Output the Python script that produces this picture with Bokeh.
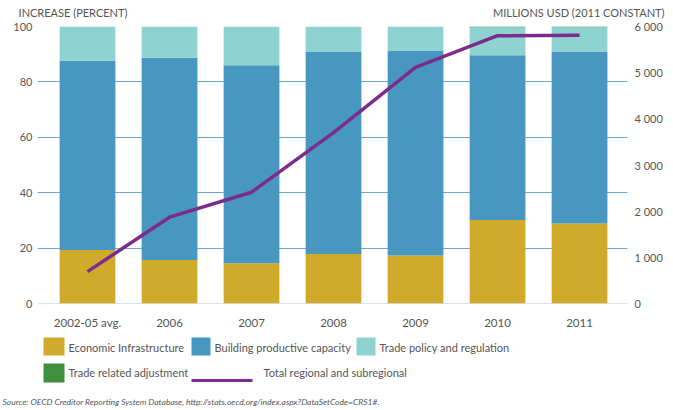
from bokeh.plotting import figure
from bokeh.models import (ColumnDataSource, Range1d, LinearAxis, FixedTicker,
                          Span, Title)
from bokeh.layouts import column
from bokeh.core.properties import value
from bokeh.embed import file_html
from bokeh.resources import INLINE

# ---- data ----
categories = ["2002-05 avg.", "2006", "2007", "2008", "2009", "2010", "2011"]
economic_infrastructure = [19.3, 15.7, 14.5, 17.9, 17.3, 30.1, 28.9]
building_productive_capacity = [68.3, 73.0, 71.5, 73.1, 74.0, 59.5, 62.1]
trade_policy_regulation = [12.4, 11.3, 14.0, 9.0, 8.7, 10.1, 8.7]
trade_related_adjustment = [0.0, 0.0, 0.0, 0.0, 0.0, 0.3, 0.3]
total_regional = [690, 1870, 2410, 3700, 5115, 5800, 5810]
left_ticks = [0, 20, 40, 60, 80, 100]
right_ticks = [0, 1000, 2000, 3000, 4000, 5000, 6000]
right_tick_labels = ["0", "1 000", "2 000", "3 000", "4 000", "5 000", "6 000"]
axis_titles = ["INCREASE (PERCENT)", "MILLIONS USD (2011 CONSTANT)"]
legend_labels = ["Economic Infrastructure", "Building productive capacity",
                 "Trade policy and regulation", "Trade related adjustment",
                 "Total regional and subregional"]
source_note = "Source: OECD Creditor Reporting System Database, http://stats.oecd.org/index.aspx?DataSetCode=CRS1#."

colors = ["#CFAA2B", "#4897C0", "#8ED2D2", "#3F8F3F"]
purple = "#7B2C8C"
grid_color = "#6BA8CF"
text_color = "#555555"
FONT = "Lato"

idx = list(range(len(categories)))
source = ColumnDataSource(dict(
    x=idx,
    econ=economic_infrastructure,
    build=building_productive_capacity,
    policy=trade_policy_regulation,
    adjust=trade_related_adjustment,
    total=total_regional,
))

p = figure(width=673, height=335, output_backend="svg", toolbar_location=None,
           x_range=Range1d(-0.61, 6.585), y_range=Range1d(0, 100),
           min_border_left=37, min_border_right=46, min_border_top=26,
           min_border_bottom=32, x_axis_location=None, y_axis_location=None)
p.outline_line_color = None
p.extra_y_ranges = {"usd": Range1d(0, 6000)}

p.xgrid.visible = False
p.ygrid.ticker = FixedTicker(ticks=left_ticks[1:])
p.ygrid.grid_line_color = grid_color
p.ygrid.grid_line_width = 1
p.add_layout(Span(location=0, dimension="width", line_color="#BCC8D6",
                  line_width=1, level="underlay"))

p.vbar_stack(["econ", "build", "policy", "adjust"], x="x", width=0.68,
             color=colors, line_color=None, source=source)
p.line("x", "total", source=source, y_range_name="usd", line_color=purple,
       line_width=3.5, line_join="round")

def style(ax, size="11px"):
    ax.axis_line_color = None
    ax.major_tick_line_color = None
    ax.minor_tick_line_color = None
    ax.major_tick_out = 0
    ax.major_tick_in = 0
    ax.minor_tick_out = 0
    ax.major_label_text_font = FONT
    ax.major_label_text_font_size = size
    ax.major_label_text_color = text_color

yl = LinearAxis(ticker=FixedTicker(ticks=left_ticks), major_label_standoff=5)
style(yl)
p.add_layout(yl, "left")

yr = LinearAxis(y_range_name="usd", ticker=FixedTicker(ticks=right_ticks),
                major_label_standoff=7,
                major_label_overrides={t: l for t, l in zip(right_ticks, right_tick_labels)})
style(yr)
p.add_layout(yr, "right")

xb = LinearAxis(ticker=FixedTicker(ticks=idx), major_label_standoff=12,
                major_label_overrides={i: c for i, c in zip(idx, categories)})
style(xb, "11.5px")
p.add_layout(xb, "below")

# axis titles drawn as labels of a top axis (left title over the percent axis,
# right title over the USD axis)
title_pos = [-0.177, 5.99]
xt = LinearAxis(ticker=FixedTicker(ticks=title_pos), major_label_standoff=8,
                major_label_overrides={t: s for t, s in zip(title_pos, axis_titles)})
style(xt, "11px")
p.add_layout(xt, "above")

# ---- legend / source panel ----
lg = figure(width=673, frame_height=58, output_backend="svg", toolbar_location=None,
            x_range=Range1d(37, 627), y_range=Range1d(58, 0),
            min_border=0, x_axis_location=None, y_axis_location=None)
lg.outline_line_color = None
lg.grid.visible = False

sw = ColumnDataSource(dict(
    left=[43, 191, 356, 43], right=[64, 210, 375, 64],
    top=[2, 2, 2, 28], bottom=[20, 20, 20, 47], color=colors))
lg.quad(left="left", right="right", top="top", bottom="bottom", color="color",
        line_color=None, source=sw)
lg.line([191, 252], [45, 45], line_color=purple, line_width=3)

ts = ColumnDataSource(dict(
    x=[68, 214, 379, 68, 263], y=[12, 12, 12, 37, 37], t=legend_labels))
lg.text(x="x", y="y", text="t", source=ts, text_font=value(FONT),
        text_font_size="11px", text_color=text_color, text_baseline="middle")
lg.add_layout(Title(text=source_note, align="left", offset=-35, standoff=2,
                    text_font=FONT, text_font_size="8.5px", text_font_style="italic",
                    text_color=text_color), "below")

layout = column(p, lg, spacing=0)
open("out.html", "w").write(file_html(layout, INLINE))
